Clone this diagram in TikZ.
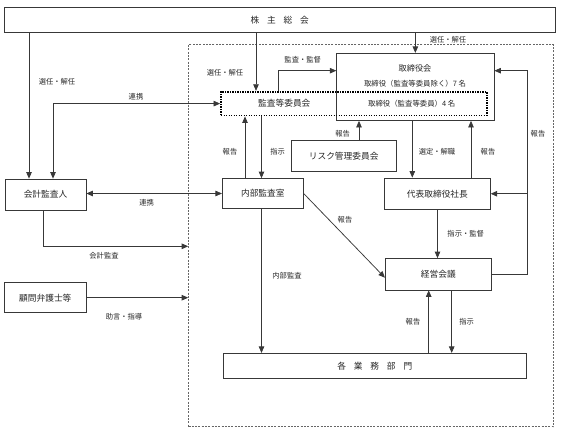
\documentclass[tikz,border=0pt]{standalone}
\usepackage{fontspec}
\newfontfamily\jp{Noto Sans CJK JP}
\usetikzlibrary{arrows.meta}
\definecolor{linec}{gray}{0.22}
\definecolor{txtc}{gray}{0.15}
\begin{document}
\begin{tikzpicture}[x=1pt,y=-1pt,
  box/.style={draw=linec, line width=0.75pt, inner sep=0pt, text=txtc, font=\jp\fontsize{8.7}{10}\selectfont},
  dotbox/.style={draw=black, line width=1.8pt, dash pattern=on 1.4pt off 1.1pt, inner sep=0pt},
  btext/.style={inner sep=0pt, text=txtc, font=\jp\fontsize{8.7}{10}\selectfont},
  stext/.style={inner sep=0pt, text=txtc, font=\jp\fontsize{7.4}{9}\selectfont},
  lab/.style={inner sep=0pt, text=txtc, font=\jp\fontsize{7.3}{9}\selectfont},
  conn/.style={draw=linec, line width=0.75pt},
  arr/.style={conn, -{Triangle[length=6.5pt,width=5.5pt]}},
  arrb/.style={conn, {Triangle[length=6.5pt,width=5.5pt]}-{Triangle[length=6.5pt,width=5.5pt]}},
  group/.style={draw=gray!80!black, line width=0.6pt, dash pattern=on 2pt off 1.3pt, inner sep=0pt}]
\useasboundingbox (0,0) rectangle (563,439);

% dashed company region
\node[group, minimum width=364.8pt, minimum height=382pt] (grp) at (370.9,235.7) {};

% boxes
\node[box, minimum width=550.5pt, minimum height=25pt] (soukai) at (279.75,20) {株\hspace{0.9em}主\hspace{0.9em}総\hspace{0.9em}会};
\node[box, minimum width=81pt, minimum height=31pt] (kaikei) at (45.5,194.5) {会計監査人};
\node[box, minimum width=81.5pt, minimum height=30pt] (komon) at (45.3,297.7) {顧問弁護士等};
\node[box, minimum width=157.3pt, minimum height=67.2pt] (tori) at (415.35,86.9) {};
\node[stext] (toriA) at (415,68.3) {\fontsize{8.2}{10}\selectfont 取締役会};
\node[stext] (toriB) at (415,83.8) {取締役（監査等委員除く）7 名};
\node[dotbox, minimum width=265.7pt, minimum height=23.8pt] (kansa) at (353.85,103.6) {};
\node[btext] (kansaA) at (284.3,103.3) {監査等委員会};
\node[stext] (kansaB) at (411.7,103.3) {取締役（監査等委員）4 名};
\node[box, minimum width=81pt, minimum height=30pt] (naibu) at (262.8,193.5) {内部監査室};
\node[box, minimum width=105.3pt, minimum height=31.3pt] (risk) at (343.65,156.15) {リスク管理委員会};
\node[box, minimum width=105.8pt, minimum height=31.5pt] (daihyo) at (437.4,193.75) {代表取締役社長};
\node[box, minimum width=106pt, minimum height=31.5pt] (keiei) at (438.3,274.25) {経営会議};
\node[box, minimum width=303pt, minimum height=25.4pt] (kaku) at (374.8,366) {各\hspace{0.9em}業\hspace{0.9em}務\hspace{0.9em}部\hspace{0.9em}門};

% connectors
\coordinate (rc) at (527.5,70.7);
\draw[arr] (soukai.south -| 29,0) -- (kaikei.north -| 29,0);
\draw[arrb] (kaikei.north -| 53,0) |- (kansa.west);
\draw[arr] (soukai.south -| 256,0) -- (kansa.north -| 256,0);
\draw[arr] (soukai.south -| tori.north) -- (tori.north);
\draw[arr] (kansa.north -| 278.3,0) |- (tori.west |- rc);
\draw[arr] (risk.north -| 359,0) -- (tori.south -| 359,0);
\draw[arr] (naibu.north -| 245,0) -- (kansa.south -| 245,0);
\draw[arr] (kansa.south -| 261.5,0) -- (naibu.north -| 261.5,0);
\draw[arrb] (kaikei.east |- naibu.west) -- (naibu.west);
\draw[arr] (kaikei.south -| 43.3,0) |- (grp.west |- 0,246.3);
\draw[arr] (komon.east) -- (grp.west |- komon.east);
\draw[arr] (tori.south -| 412.3,0) -- (daihyo.north -| 412.3,0);
\draw[arr] (daihyo.north -| 471,0) -- (tori.south -| 471,0);
\draw[arr] (keiei.east) -| (rc) -- (tori.east |- rc);
\draw[arr] (rc |- daihyo.east) -- (daihyo.east);
\draw[arr] (daihyo.south -| 437.5,0) -- (keiei.north -| 437.5,0);
\draw[arr] (naibu.east) -- (keiei.west |- 0,277.7);
\draw[arr] (naibu.south -| 261.5,0) -- (kaku.north -| 261.5,0);
\draw[arr] (kaku.north -| 428.7,0) -- (keiei.south -| 428.7,0);
\draw[arr] (keiei.south -| 451.7,0) -- (kaku.north -| 451.7,0);

% labels
\node[lab] (l1) at (57,82) {選任・解任};
\node[lab] (l2) at (136,97) {連携};
\node[lab] (l3) at (225,72.3) {選任・解任};
\node[lab] (l4) at (448,40) {選任・解任};
\node[lab] (l5) at (302.7,60) {監査・監督};
\node[lab] (l6) at (342.7,133.3) {報告};
\node[lab] (l7) at (230,151.5) {報告};
\node[lab] (l8) at (277.7,151.5) {指示};
\node[lab] (l9) at (146.7,202.5) {連携};
\node[lab] (l10) at (104,255.5) {会計監査};
\node[lab] (l11) at (124,316.5) {助言・指導};
\node[lab] (l12) at (437,151.7) {選定・解職};
\node[lab] (l13) at (488,151.5) {報告};
\node[lab] (l14) at (538,134) {報告};
\node[lab] (l15) at (345,220) {報告};
\node[lab] (l16) at (465.7,234) {指示・監督};
\node[lab] (l17) at (287,275.7) {内部監査};
\node[lab] (l18) at (413,322) {報告};
\node[lab] (l19) at (466.7,322) {指示};
\end{tikzpicture}
\end{document}
